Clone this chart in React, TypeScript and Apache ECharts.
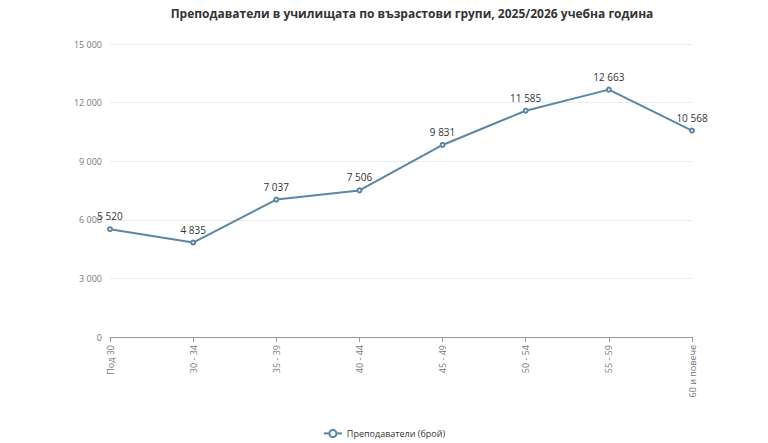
import { useEffect, useRef } from 'react';
import * as echarts from 'echarts';

const categories = ['Под 30', '30 - 34', '35 - 39', '40 - 44', '45 - 49', '50 - 54', '55 - 59', '60 и повече'];
const teachers = [5520, 4835, 7037, 7506, 9831, 11585, 12663, 10568];
const yTicks = { min: 0, max: 15000, interval: 3000 };

const fmt = (v: number) => String(v).replace(/\B(?=(\d{3})+(?!\d))/g, ' ');

export default function App() {
  const chartRef = useRef<HTMLDivElement>(null);

  useEffect(() => {
    if (!chartRef.current) return;
    const chart = echarts.init(chartRef.current, undefined, { renderer: 'svg' });

    chart.setOption({
      animation: false,
      textStyle: { fontFamily: '"Open Sans", "Noto Sans", sans-serif' },
      title: {
        text: 'Преподаватели в училищата по възрастови групи, 2025/2026 учебна година',
        left: 407,
        textAlign: 'center',
        top: 2,
        textStyle: { fontSize: 12, fontWeight: 'bold', color: '#333' },
      },
      legend: {
        bottom: 0,
        left: 'center',
        itemWidth: 18,
        itemHeight: 9,
        textStyle: { fontSize: 9, color: '#333' },
        data: ['Преподаватели (брой)'],
      },
      grid: { left: 110, right: 76, top: 44, bottom: 106 },
      xAxis: {
        type: 'category',
        data: categories,
        boundaryGap: false,
        axisLine: { lineStyle: { color: '#999' } },
        axisTick: { alignWithLabel: true, lineStyle: { color: '#999' } },
        axisLabel: { rotate: 90, fontSize: 9, color: '#777', margin: 8 },
      },
      yAxis: {
        type: 'value',
        min: yTicks.min,
        max: yTicks.max,
        interval: yTicks.interval,
        axisLabel: { fontSize: 9, color: '#777', formatter: (v: number) => fmt(v) },
        splitLine: { lineStyle: { color: '#e8ebf0' } },
      },
      series: [
        {
          name: 'Преподаватели (брой)',
          type: 'line',
          data: teachers,
          symbol: 'emptyCircle',
          symbolSize: 4,
          lineStyle: { color: '#5b86a5', width: 2 },
          itemStyle: { color: '#5b86a5' },
          label: {
            show: true,
            position: 'top',
            fontSize: 10,
            color: '#333',
            formatter: (p: any) => fmt(p.value),
          },
        },
      ],
    });

    return () => chart.dispose();
  }, []);

  return <div ref={chartRef} style={{ position: 'absolute', left: 0, top: 0, width: 768, height: 443 }} />;
}
